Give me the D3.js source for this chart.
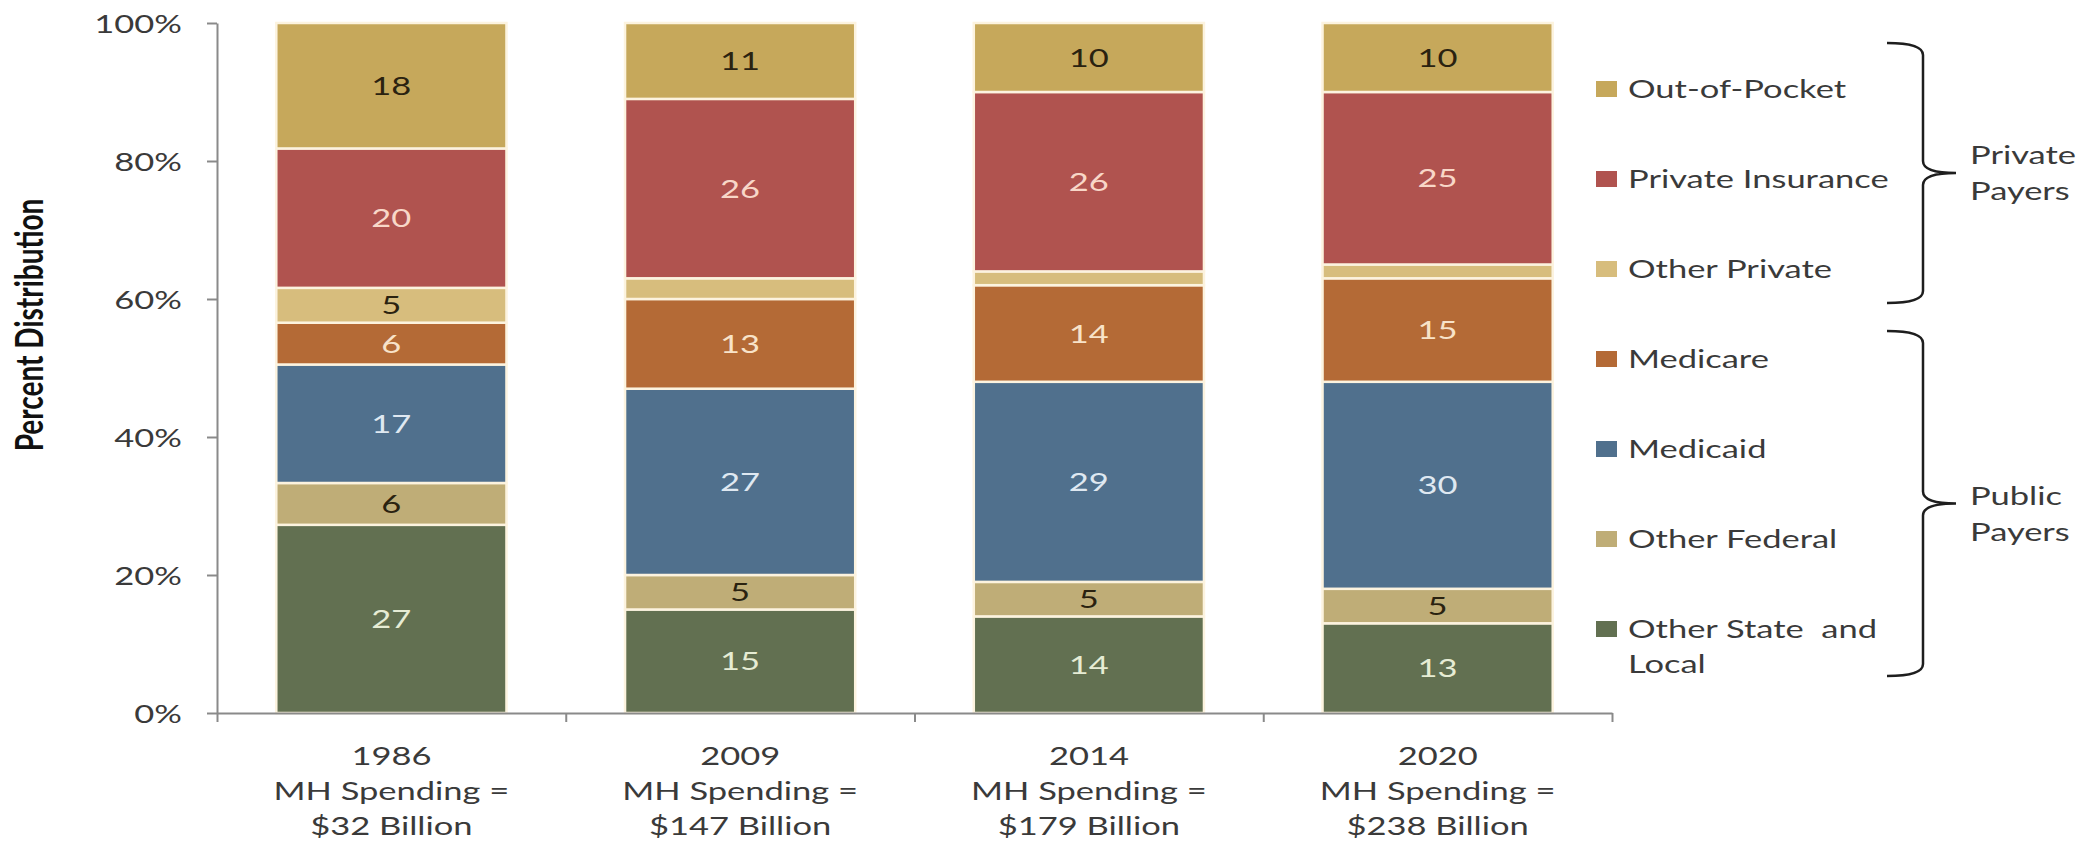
<!DOCTYPE html>
<html>
<head>
<meta charset="utf-8">
<script src="https://cdn.jsdelivr.net/npm/d3@7"></script>
<style>
  html, body { margin: 0; padding: 0; background: #ffffff; }
  svg { display: block; }
  text { font-family: Lato, "Open Sans", sans-serif; }
</style>
</head>
<body>
<svg id="chart" width="2100" height="842"></svg>
<script>
// ---- data: percent distribution of mental health spending by payer ----
const years = ["1986", "2009", "2014", "2020"];
const spending = ["$32 Billion", "$147 Billion", "$179 Billion", "$238 Billion"];

// stacking order, bottom to top
const payers = ["Other State and Local", "Other Federal", "Medicaid", "Medicare",
                "Other Private", "Private Insurance", "Out-of-Pocket"];

const otherStateLocal  = [27, 15, 14, 13];
const otherFederal     = [6, 5, 5, 5];
const medicaid         = [17, 27, 29, 30];
const medicare         = [6, 13, 14, 15];
const otherPrivate     = [5, 3, 2, 2];
const privateInsurance = [20, 26, 26, 25];
const outOfPocket      = [18, 11, 10, 10];

const yTicks = [0, 0.2, 0.4, 0.6, 0.8, 1];

const privatePayers = ["Out-of-Pocket", "Private Insurance", "Other Private"];
const publicPayers  = ["Medicare", "Medicaid", "Other Federal", "Other State and Local"];
const groupNames = [["Private", "Payers"], ["Public", "Payers"]];

// ---- styling ----
const colors = {
  "Other State and Local": "#627051",
  "Other Federal": "#bfad77",
  "Medicaid": "#50708d",
  "Medicare": "#b46a36",
  "Other Private": "#d7bd7d",
  "Private Insurance": "#b0534f",
  "Out-of-Pocket": "#c6a85b"
};
const labelColors = {
  "Other State and Local": "#e6ecd4",
  "Other Federal": "#2a2210",
  "Medicaid": "#dfe8f1",
  "Medicare": "#f8e3c9",
  "Other Private": "#2a2210",
  "Private Insurance": "#f8d7c8",
  "Out-of-Pocket": "#2a2210"
};
const legendLines = {
  "Other State and Local": ["Other State  and", "Local"]
};

const SX = 1.38;      // horizontal widening of all lettering
const FS = 25;        // base font size
const TEXT = "#3a3a3a";

const svg = d3.select("#chart");

const x = d3.scaleBand().domain(years).range([217, 1612])
  .paddingInner(0.34).paddingOuter(0.17);
const y = d3.scaleLinear().domain([0, 1]).range([713, 23]);

function place(sel, px, py) {
  return sel.attr("transform", `translate(${px},${py}) scale(${SX},1)`);
}

// ---- stacked bars ----
const rows = years.map((yr, i) => ({
  year: yr,
  "Other State and Local": otherStateLocal[i],
  "Other Federal": otherFederal[i],
  "Medicaid": medicaid[i],
  "Medicare": medicare[i],
  "Other Private": otherPrivate[i],
  "Private Insurance": privateInsurance[i],
  "Out-of-Pocket": outOfPocket[i]
}));

const series = d3.stack().keys(payers).offset(d3.stackOffsetExpand)(rows);

const layer = svg.append("g").selectAll("g")
  .data(series).join("g")
  .attr("fill", s => colors[s.key]);

layer.selectAll("rect")
  .data(s => s)
  .join("rect")
  .attr("x", d => x(d.data.year))
  .attr("width", x.bandwidth())
  .attr("y", d => y(d[1]))
  .attr("height", d => y(d[0]) - y(d[1]))
  .attr("stroke", "#fcf3df")
  .attr("stroke-width", 2.5);

// value labels in the middle of each segment
const labels = svg.append("g");
series.forEach(s => {
  s.forEach(d => {
    const v = d.data[s.key];
    if (v < 4) return;
    const t = labels.append("text")
      .attr("text-anchor", "middle")
      .attr("dy", "0.36em")
      .attr("font-size", FS)
      .attr("fill", labelColors[s.key])
      .text(v);
    place(t, x(d.data.year) + x.bandwidth() / 2, (y(d[0]) + y(d[1])) / 2);
  });
});

// ---- y axis ----
const yAxis = svg.append("g")
  .attr("transform", "translate(217,0)")
  .call(d3.axisLeft(y).tickValues(yTicks).tickFormat(d3.format(".0%"))
    .tickSize(10).tickSizeOuter(0));
yAxis.select(".domain").attr("stroke", "#8a8a8a").attr("stroke-width", 2);
yAxis.selectAll(".tick line").attr("stroke", "#8a8a8a").attr("stroke-width", 2);
yAxis.selectAll(".tick text")
  .attr("x", 0)
  .attr("dy", "0.36em")
  .attr("font-family", null)
  .attr("font-size", FS)
  .attr("fill", TEXT)
  .attr("transform", `translate(-35,0) scale(${SX},1)`);

// ---- x axis: baseline with ticks between categories ----
const xBounds = d3.scaleLinear().domain([0, years.length]).range(x.range());
const xAxis = svg.append("g")
  .attr("transform", `translate(0,${y(0)})`)
  .call(d3.axisBottom(xBounds).ticks(years.length).tickFormat("")
    .tickSize(9).tickSizeOuter(0));
xAxis.select(".domain").attr("stroke", "#8a8a8a").attr("stroke-width", 2);
xAxis.selectAll(".tick line").attr("stroke", "#8a8a8a").attr("stroke-width", 2);

// category labels (three lines each)
years.forEach((yr, i) => {
  const cx = x(yr) + x.bandwidth() / 2;
  [yr, "MH Spending =", spending[i]].forEach((line, k) => {
    const t = svg.append("text")
      .attr("text-anchor", "middle")
      .attr("font-size", FS)
      .attr("fill", TEXT)
      .text(line);
    place(t, cx, y(0) + 52 + k * 35);
  });
});

// y axis title
svg.append("text")
  .attr("text-anchor", "middle")
  .attr("dy", "0.36em")
  .attr("font-size", 28)
  .attr("font-weight", "bold")
  .attr("fill", "#111")
  .attr("transform", `translate(29,325) scale(${SX},1) rotate(-90)`)
  .text("Percent Distribution");

// ---- legend ----
const legendOrder = payers.slice().reverse();
const rowY = i => 89 + i * 90;
const legend = svg.append("g");
legendOrder.forEach((name, i) => {
  const cy = rowY(i);
  legend.append("rect")
    .attr("x", 1596).attr("y", cy - 8)
    .attr("width", 21).attr("height", 16)
    .attr("fill", colors[name]);
  const lines = legendLines[name] || [name];
  lines.forEach((line, k) => {
    const t = legend.append("text")
      .attr("dy", "0.36em")
      .attr("font-size", FS)
      .attr("fill", TEXT)
      .style("white-space", "pre")
      .text(line);
    place(t, 1628, cy + k * 35);
  });
});

// ---- braces grouping the payers ----
function brace(top, bottom, xs, xv, xt) {
  const mid = (top + bottom) / 2;
  const r = 12;
  return `M${xs},${top} Q${xv},${top} ${xv},${top + r} L${xv},${mid - r} ` +
         `Q${xv},${mid} ${xt},${mid} Q${xv},${mid} ${xv},${mid + r} ` +
         `L${xv},${bottom - r} Q${xv},${bottom} ${xs},${bottom}`;
}
const braceSpans = [
  [rowY(legendOrder.indexOf(privatePayers[0])) - 46, rowY(legendOrder.indexOf(privatePayers[2])) + 34],
  [rowY(legendOrder.indexOf(publicPayers[0])) - 28, rowY(legendOrder.indexOf(publicPayers[3])) + 47]
];
const groupLabelShift = [-18, -8];
braceSpans.forEach(([top, bottom], g) => {
  svg.append("path")
    .attr("d", brace(top, bottom, 1887, 1923, 1956))
    .attr("fill", "none")
    .attr("stroke", "#1e1e1e")
    .attr("stroke-width", 2.5);
  const mid = (top + bottom) / 2;
  groupNames[g].forEach((line, k) => {
    const t = svg.append("text")
      .attr("dy", "0.36em")
      .attr("font-size", FS)
      .attr("fill", TEXT)
      .text(line);
    place(t, 1970, mid + groupLabelShift[g] + k * 36);
  });
});
</script>
</body>
</html>
